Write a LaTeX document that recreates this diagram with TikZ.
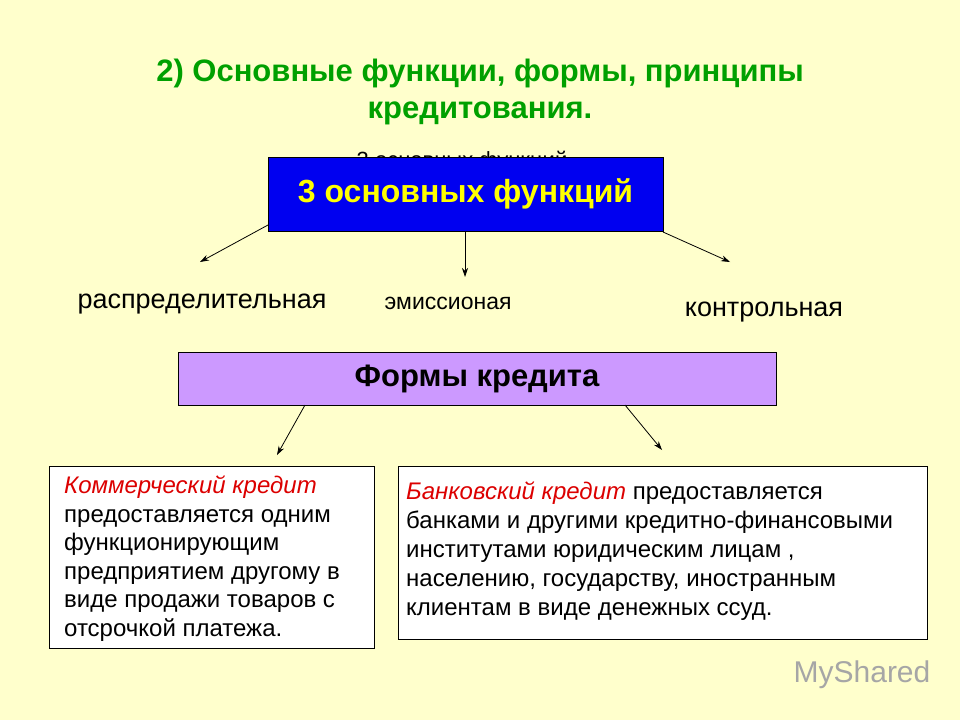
\documentclass[tikz,border=0pt]{standalone}
\usepackage{fontspec}
\setmainfont{Liberation Sans}
\usetikzlibrary{arrows.meta}
\definecolor{bg}{RGB}{255,255,204}
\definecolor{ttl}{RGB}{0,160,0}
\definecolor{bluebox}{RGB}{0,0,240}
\definecolor{yel}{RGB}{255,255,0}
\definecolor{lil}{RGB}{204,153,255}
\definecolor{red1}{RGB}{220,0,0}
\tikzset{arr/.style={-{Stealth[length=9pt,width=6pt]},line width=0.8pt},
 txtbox/.style={draw,line width=0.8pt,fill=white,anchor=north west,inner sep=0pt}}
\begin{document}
\begin{tikzpicture}[x=1pt,y=-1pt]
\fill[bg] (0,0) rectangle (960,720);
\useasboundingbox (0,0) rectangle (960,720);
\node[ttl,font=\fontsize{31}{37}\selectfont\bfseries,align=center] (title) at (480,92) {2) Основные функции, формы, принципы\\кредитования.};
\node[font=\fontsize{22}{24}\selectfont] (hid) at (462,162) {3 основных функций};
\node[draw,fill=bluebox,minimum width=395pt,minimum height=74pt,inner sep=0pt,font=\fontsize{32}{36}\selectfont\bfseries,text=yel] (f) at (465.5,194) {3 основных функций};
\coordinate (a1) at (200,262);
\coordinate (a2) at (465,277);
\coordinate (a3) at (730,262);
\coordinate (b1) at (277,455);
\coordinate (b2) at (662,450);
\draw[arr] (268,225) -- (a1);
\draw[arr] (f.south -| a2) -- (a2);
\draw[arr] (663,232) -- (a3);
\node[font=\fontsize{27}{30}\selectfont] (r) at (202,304) {распределительная};
\node[font=\fontsize{23}{26}\selectfont] (e) at (448,303) {эмиссионая};
\node[font=\fontsize{27}{30}\selectfont] (k) at (764,312) {контрольная};
\node[draw,fill=lil,minimum width=598pt,minimum height=53pt,inner sep=0pt,font=\fontsize{31}{34}\selectfont\bfseries] (fk) at (477,378.5) {Формы кредита};
\node[txtbox,minimum width=325pt,minimum height=182pt] (lb) at (49,466) {};
\node[txtbox,minimum width=529pt,minimum height=173pt] (rb) at (398,466) {};
\draw[arr] (305,405) -- (b1);
\draw[arr] (625,405) -- (b2);
\node[anchor=north west,align=left,inner sep=0pt,font=\fontsize{24}{28.5}\selectfont] (lt) at (64,476) {\textcolor{red1}{\itshape Коммерческий кредит}\\предоставляется одним\\функционирующим\\предприятием другому в\\виде продажи товаров с\\отсрочкой платежа.};
\node[anchor=north west,align=left,inner sep=0pt,font=\fontsize{24}{29}\selectfont] (rt) at (406,482) {\textcolor{red1}{\itshape Банковский кредит} предоставляется\\банками и другими кредитно-финансовыми\\институтами юридическим лицам ,\\населению, государству, иностранным\\клиентам в виде денежных ссуд.};
\node[gray!70,font=\fontsize{30}{32}\selectfont] (ms) at (862,675) {MyShared};
\end{tikzpicture}
\end{document}
